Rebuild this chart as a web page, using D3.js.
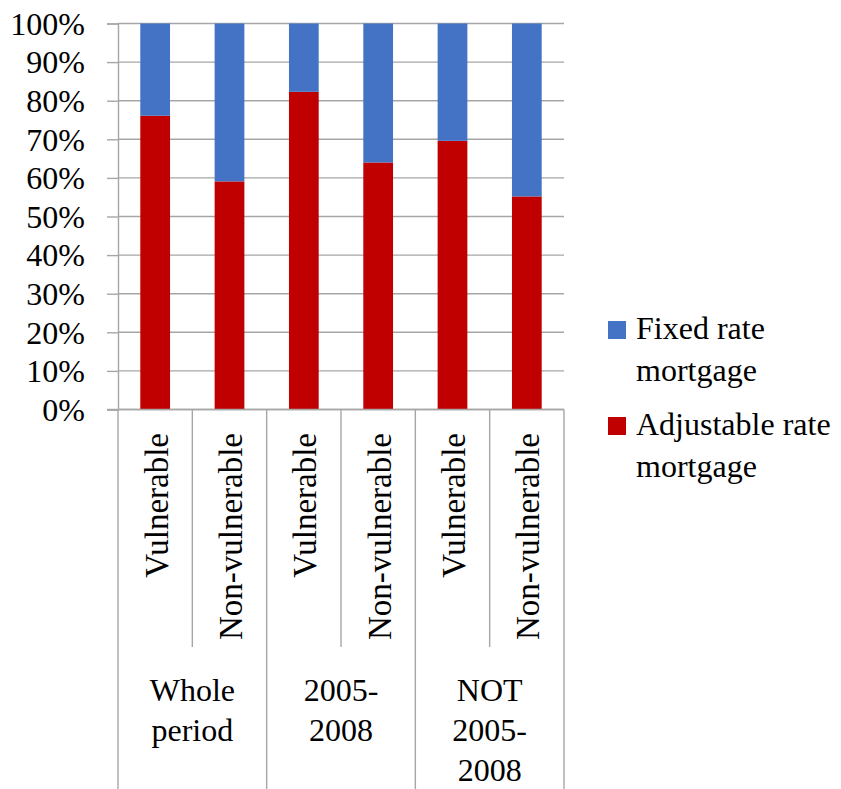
<!DOCTYPE html>
<html>
<head>
<meta charset="utf-8">
<script src="https://cdn.jsdelivr.net/npm/d3@7"></script>
<style>
  html, body { margin: 0; padding: 0; background: #fff; }
</style>
</head>
<body>
<svg id="chart" width="841" height="789"></svg>
<script>
// Mortgage type shares by borrower group and period
const groups = ["Whole period", "2005-2008", "NOT 2005-2008"];
const groupLines = [["Whole", "period"], ["2005-", "2008"], ["NOT", "2005-", "2008"]];
const subCategories = ["Vulnerable", "Non-vulnerable"];
const adjustableRate = [76.1, 59.1, 82.3, 64.0, 69.6, 55.2];
const fixedRate = [23.9, 40.9, 17.7, 36.0, 30.4, 44.8];
const yTicks = [0, 10, 20, 30, 40, 50, 60, 70, 80, 90, 100];
const seriesNames = ["Fixed rate mortgage", "Adjustable rate mortgage"];
const legendLines = [["Fixed rate", "mortgage"], ["Adjustable rate", "mortgage"]];

const colors = { fixed: "#4472C4", adjustable: "#C00000" };
const gridColor = "#a6a6a6";
const FONT = "'Liberation Serif', monospace";

const svg = d3.select("#chart");
const plot = { left: 118, right: 564, top: 23.5, bottom: 409.5 };

// One band per bar, keyed by group + subcategory
const bars = [];
groups.forEach((g, gi) => subCategories.forEach((s, si) => {
  const i = gi * subCategories.length + si;
  bars.push({ key: g + "|" + s, group: g, sub: s, adj: adjustableRate[i], fix: fixedRate[i] });
}));

const x = d3.scaleBand()
  .domain(bars.map(d => d.key))
  .range([plot.left, plot.right])
  .paddingInner(0.6)
  .paddingOuter(0.3);
const xGroup = d3.scaleBand().domain(groups).range([plot.left, plot.right]);
const y = d3.scaleLinear().domain([0, 100]).range([plot.bottom, plot.top]);

// Horizontal gridlines
svg.append("g")
  .selectAll("line")
  .data(yTicks)
  .join("line")
  .attr("x1", plot.left).attr("x2", plot.right)
  .attr("y1", d => y(d)).attr("y2", d => y(d))
  .attr("stroke", gridColor).attr("stroke-width", 1.4);

// Y axis with outward ticks
const yAxis = d3.axisLeft(y).tickValues(yTicks).tickSize(11).tickFormat(d => d + "%");
const yG = svg.append("g").attr("transform", `translate(${plot.left},0)`).call(yAxis);
yG.attr("font-family", null).attr("font-size", null);
yG.select(".domain").attr("stroke", gridColor).attr("stroke-width", 1.4);
yG.selectAll(".tick line").attr("stroke", gridColor).attr("stroke-width", 1.4);
yG.selectAll(".tick text")
  .attr("x", -33).attr("dy", "0.34em")
  .style("font-family", FONT)
  .style("font-size", "32px");

// Stacked bars: adjustable at the bottom, fixed on top
const barG = svg.append("g");
barG.selectAll("rect.adj")
  .data(bars).join("rect").attr("class", "adj")
  .attr("x", d => x(d.key)).attr("width", x.bandwidth())
  .attr("y", d => y(d.adj)).attr("height", d => y(0) - y(d.adj))
  .attr("fill", colors.adjustable);
barG.selectAll("rect.fix")
  .data(bars).join("rect").attr("class", "fix")
  .attr("x", d => x(d.key)).attr("width", x.bandwidth())
  .attr("y", d => y(d.adj + d.fix)).attr("height", d => y(d.adj) - y(d.adj + d.fix))
  .attr("fill", colors.fixed);

// Category axis baseline
svg.append("line")
  .attr("x1", plot.left - 11).attr("x2", plot.right)
  .attr("y1", plot.bottom).attr("y2", plot.bottom)
  .attr("stroke", gridColor).attr("stroke-width", 1.4);

// Separators: short ones between subcategories, long ones between groups
const subSepBottom = 647;
const groupSepBottom = 789;
const sepG = svg.append("g").attr("stroke", gridColor).attr("stroke-width", 1.4);
d3.range(bars.length + 1).forEach(i => {
  const xx = plot.left + (plot.right - plot.left) * i / bars.length;
  const isGroup = i % subCategories.length === 0;
  sepG.append("line")
    .attr("x1", xx).attr("x2", xx)
    .attr("y1", plot.bottom).attr("y2", isGroup ? groupSepBottom : subSepBottom);
});

// Rotated subcategory labels
svg.append("g")
  .selectAll("text")
  .data(bars)
  .join("text")
  .attr("transform", d => `translate(${x(d.key) + x.bandwidth() / 2 + 12.5},433) rotate(-90)`)
  .attr("text-anchor", "end")
  .style("font-family", FONT)
  .style("font-size", "33px")
  .text(d => d.sub);

// Group labels, wrapped over several lines
const gl = svg.append("g");
groups.forEach((g, gi) => {
  const t = gl.append("text")
    .attr("text-anchor", "middle")
    .style("font-family", FONT)
    .style("font-size", "32px");
  groupLines[gi].forEach((line, li) => {
    t.append("tspan")
      .attr("x", xGroup(g) + xGroup.bandwidth() / 2)
      .attr("y", 701 + li * 40)
      .text(line);
  });
});

// Legend
const legend = svg.append("g");
const legendItems = [
  { name: seriesNames[0], lines: legendLines[0], color: colors.fixed, top: 321 },
  { name: seriesNames[1], lines: legendLines[1], color: colors.adjustable, top: 417 }
];
legendItems.forEach(item => {
  legend.append("rect")
    .attr("x", 608).attr("y", item.top)
    .attr("width", 18).attr("height", 18)
    .attr("fill", item.color);
  const t = legend.append("text")
    .style("font-family", FONT)
    .style("font-size", "32px");
  item.lines.forEach((line, li) => {
    t.append("tspan").attr("x", 636).attr("y", item.top + 18 + li * 41.5).text(line);
  });
});
</script>
</body>
</html>
